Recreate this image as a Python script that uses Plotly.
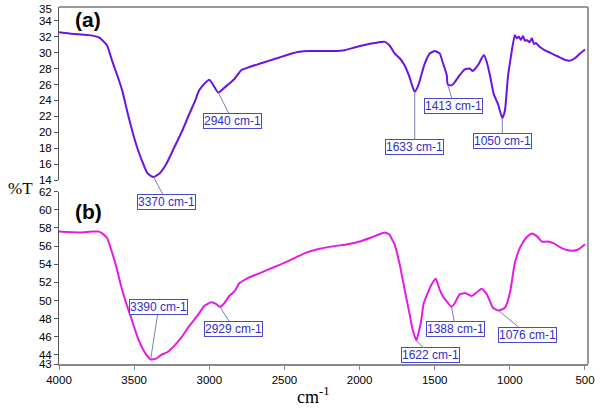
import numpy as np
import plotly.graph_objects as go

# ---- data: spectrum (a) ----
wn_a = [4000, 3933, 3867, 3800, 3733, 3713, 3680, 3647, 3613, 3580, 3547, 3513, 3480,
        3447, 3413, 3387, 3370, 3333, 3287, 3233, 3180, 3133, 3093, 3067, 3000, 2940,
        2900, 2880, 2833, 2787, 2733, 2667, 2600, 2533, 2467, 2400, 2333, 2267, 2167,
        2100, 2033, 1967, 1900, 1833, 1800, 1767, 1733, 1700, 1667, 1647, 1633, 1613,
        1593, 1567, 1533, 1500, 1467, 1447, 1420, 1413, 1387, 1367, 1333, 1300, 1267,
        1247, 1213, 1173, 1153, 1133, 1107, 1080, 1050, 1033, 1013, 993, 967, 953, 940,
        927, 913, 900, 887, 870, 853, 840, 827, 800, 767, 733, 700, 667, 633, 600, 567,
        533, 500]
t_a = [32.55, 32.4, 32.3, 32.2, 31.9, 31.6, 30.9, 29.0, 27.2, 25.3, 22.7, 20.2, 18.1,
       16.4, 14.9, 14.5, 14.4, 14.8, 16.0, 18.1, 20.2, 22.3, 24.0, 25.3, 26.6, 25.0,
       25.6, 25.9, 26.7, 27.8, 28.2, 28.6, 29.0, 29.4, 29.8, 30.1, 30.2, 30.2, 30.2,
       30.3, 30.65, 30.95, 31.2, 31.35, 30.9, 29.9, 29.3, 28.4, 26.9, 25.7, 25.1, 25.7,
       26.9, 28.6, 29.9, 30.2, 29.9, 28.8, 27.2, 26.0, 25.9, 26.3, 27.2, 27.9, 28.0,
       27.7, 28.4, 29.7, 28.8, 27.2, 24.8, 23.6, 21.8, 22.7, 26.9, 29.5, 32.2, 31.8, 32.0,
       31.6, 32.1, 31.5, 31.6, 31.3, 31.8, 31.1, 31.2, 30.7, 30.3, 30.0, 29.7, 29.4, 29.1,
       29.0, 29.3, 29.9, 30.4]

# ---- data: spectrum (b) ----
wn_b = [4000, 3867, 3780, 3733, 3713, 3680, 3653, 3620, 3587, 3553, 3520, 3480, 3447,
        3413, 3390, 3353, 3320, 3280, 3233, 3187, 3133, 3080, 3033, 2987, 2953, 2929,
        2900, 2867, 2833, 2800, 2753, 2667, 2567, 2467, 2367, 2267, 2167, 2080, 2000,
        1900, 1833, 1800, 1780, 1767, 1733, 1700, 1667, 1647, 1622, 1613, 1593, 1573,
        1547, 1520, 1493, 1467, 1447, 1420, 1388, 1367, 1333, 1293, 1253, 1213, 1187,
        1153, 1113, 1076, 1033, 1000, 967, 933, 893, 853, 820, 787, 747, 707, 667, 627,
        587, 547, 500]
t_b = [57.6, 57.5, 57.6, 57.6, 57.4, 56.9, 55.6, 53.8, 51.6, 49.7, 48.1, 46.1, 44.8,
       43.9, 43.5, 43.6, 44.0, 44.3, 45.0, 45.9, 47.2, 48.3, 49.4, 49.8, 49.6, 49.3,
       49.7, 50.5, 51.0, 51.9, 52.4, 53.0, 53.7, 54.4, 55.2, 55.7, 56.0, 56.2, 56.5,
       57.1, 57.5, 57.25, 56.6, 56.2, 54.0, 51.2, 48.5, 46.8, 45.6, 46.1, 47.5, 49.7,
       50.8, 51.8, 52.4, 51.2, 50.5, 49.9, 49.3, 49.7, 50.7, 50.8, 50.5, 51.0, 51.3,
       50.7, 49.2, 48.9, 49.2, 50.8, 54.1, 55.8, 56.9, 57.4, 57.1, 56.5, 56.5, 56.3,
       55.9, 55.6, 55.5, 55.6, 56.2]

# ---- peak labels ----
peaks_a = [3370, 2940, 1633, 1413, 1050]
peaks_b = [3390, 2929, 1622, 1388, 1076]

x_ticks = [4000, 3500, 3000, 2500, 2000, 1500, 1000, 500]
y_ticks_a = [14, 16, 18, 20, 22, 24, 26, 28, 30, 32, 34]
y_top_label_a = 35
y_ticks_b = [43, 44, 46, 48, 50, 52, 54, 56, 58, 60, 62]

# label offsets (pixels) for annotation boxes
off_a = [(13, 25), (14, 28), (0, 55), (6, 21), (0, 23)]
off_b = [(8, -52), (14, 22), (14, 15), (4, 22), (29, 24)]

col_a = "#6A14E0"
col_b = "#E41BE4"
sans = "Liberation Sans, Arial, sans-serif"
serif = "Liberation Serif, Times New Roman, serif"
tick_font = dict(family=sans, size=11.5, color="black")

fig = go.Figure()
fig.add_trace(go.Scatter(x=wn_a, y=t_a, mode="lines",
                         line=dict(color=col_a, width=2, shape="spline", smoothing=0.5),
                         xaxis="x", yaxis="y", showlegend=False, hoverinfo="skip"))
fig.add_trace(go.Scatter(x=wn_b, y=t_b, mode="lines",
                         line=dict(color=col_b, width=2, shape="spline", smoothing=0.5),
                         xaxis="x2", yaxis="y2", showlegend=False, hoverinfo="skip"))

W, H = 600, 408
L, R, T, B = 59, 12, 7, 44
xr = [4000, 480]
fig.update_layout(
    width=W, height=H,
    margin=dict(l=L, r=R, t=T, b=B, autoexpand=False),
    paper_bgcolor="white", plot_bgcolor="white",
    xaxis=dict(domain=[0, 1], range=xr, anchor="y", showticklabels=False, ticks="",
               showline=False, showgrid=False, zeroline=False, automargin=False),
    yaxis=dict(domain=[0.515, 1], range=[14, 35.73], tickvals=y_ticks_a, ticks="outside",
               ticklen=4, tickcolor="#555", showline=True, linecolor="#555", linewidth=1,
               showgrid=False, zeroline=False, tickfont=tick_font, anchor="x",
               automargin=False),
    xaxis2=dict(domain=[0, 1], range=xr, anchor="y2", tickvals=x_ticks, ticks="outside",
                ticklen=4, tickcolor="#888", showline=True, linecolor="#888", linewidth=1.5,
                showgrid=False, zeroline=False, tickfont=tick_font, automargin=False),
    yaxis2=dict(domain=[0, 0.4826], range=[43, 62], tickvals=y_ticks_b, ticks="outside",
                ticklen=4, tickcolor="#555", showline=True, linecolor="#555", linewidth=1,
                showgrid=False, zeroline=False, tickfont=tick_font, anchor="x2",
                automargin=False),
    shapes=[
        dict(type="line", xref="paper", yref="paper", x0=0, x1=1, y0=1, y1=1,
             line=dict(color="#999", width=2)),
        dict(type="line", xref="paper", yref="paper", x0=1, x1=1, y0=0, y1=1,
             line=dict(color="#999", width=2)),
    ],
)

ann = []
def add_labels(peaks, wn, t, offs, xref, yref):
    wn_arr = np.array(wn)[::-1]
    t_arr = np.array(t)[::-1]
    for p, (dx, dy) in zip(peaks, offs):
        yv = float(np.interp(p, wn_arr, t_arr))
        ann.append(dict(x=p, y=yv, xref=xref, yref=yref, text=f"{p} cm-1",
                        showarrow=True, arrowhead=0, arrowwidth=1, arrowcolor="#7A80B0",
                        ax=dx, ay=dy, bgcolor="white", bordercolor="#4A4AC8",
                        borderwidth=1, borderpad=0,
                        font=dict(family=sans, size=12, color="#2E2ECC")))

add_labels(peaks_a, wn_a, t_a, off_a, "x", "y")
add_labels(peaks_b, wn_b, t_b, off_b, "x2", "y2")

def px_to_paper(px, py):
    return (px - L) / (W - L - R), (H - B - py) / (H - T - B)

texts = [
    (88, 20, "<b>(a)</b>", dict(family=sans, size=21, color="black"), "center"),
    (88, 212, "<b>(b)</b>", dict(family=sans, size=21, color="black"), "center"),
    (20, 188, "%T", dict(family=serif, size=17, color="black"), "center"),
    (313, 396, "cm<sup>-1</sup>", dict(family=serif, size=18, color="black"), "center"),
    (54, 9, str(y_top_label_a), tick_font, "right"),
]
for px, py, txt, fnt, xa in texts:
    x, y = px_to_paper(px, py)
    ann.append(dict(x=x, y=y, xref="paper", yref="paper", text=txt, showarrow=False,
                    font=fnt, xanchor=xa, yanchor="middle"))

fig.update_layout(annotations=ann)
fig.write_html("out.html", config={"displayModeBar": False},
               post_script="document.body.style.margin='0';")
